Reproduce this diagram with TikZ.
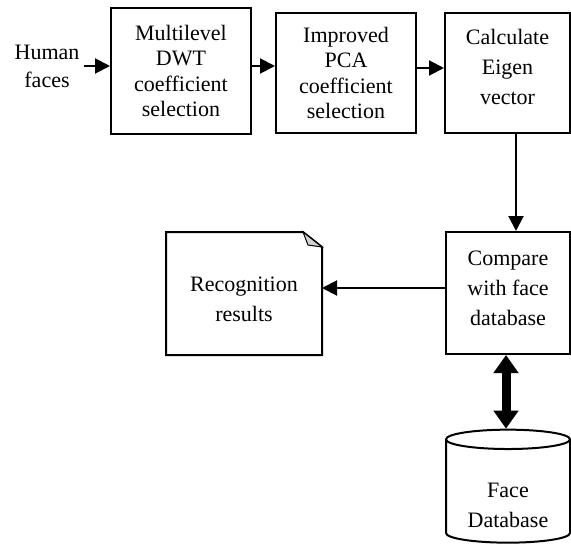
\documentclass[tikz,border=0pt]{standalone}
\usepackage{fontspec}
\setmainfont{Liberation Serif}
\usetikzlibrary{arrows.meta,shapes.geometric,calc}
\tikzset{
	blk/.style={draw,align=center,inner sep=0pt},
	tall/.style={font=\fontsize{22}{30}\selectfont},
}
\begin{document}
\begin{tikzpicture}[x=1pt,y=-1pt,>={Triangle[length=15pt,width=15pt]},font=\fontsize{22}{25.5}\selectfont,line width=2pt]
	\useasboundingbox (0,0) rectangle (571,551);
	\path
	(47,66) node[align=center,font=\fontsize{22}{28}\selectfont] (faces) {Human\\faces}
	(181,71) node[blk,minimum width=140pt,minimum height=126pt] (dwt) {Multilevel\\DWT\\coefficient\\selection}
	(346,73) node[blk,minimum width=140pt,minimum height=120pt] (pca) {Improved\\PCA\\coefficient\\selection}
	(507.5,73) node[blk,tall,text depth=12pt,minimum width=125pt,minimum height=120pt] (eigen) {Calculate\\Eigen\\vector}
	(508,293) node[blk,tall,text depth=10pt,minimum width=124pt,minimum height=122pt] (cmp) {Compare\\with face\\database}
	(244,293.5) node[align=center,tall,text height=56pt,minimum width=154pt,minimum height=121pt,inner sep=0pt] (res) {Recognition\\results}
	(508,491.5) node[cylinder,shape border rotate=90,draw,aspect=0.24,minimum width=124pt,minimum height=113pt,align=center,tall,text height=73pt,inner sep=0pt] (db) {Face\\Database}
	;
	\path
	($(eigen.south)+(8.5,0)$) coordinate (e1)
	($(cmp.west)+(0,-5)$) coordinate (c1)
	($(cmp.south)+(-2,0)$) coordinate (c2)
	;
	% folded corner of the result sheet
	\draw (res.south west) |- ($(res.north east)+(-19,0)$) -- ($(res.north east)+(0,15)$) |- (res.south west) -- cycle;
	\filldraw[fill=gray!35,line width=1pt] ($(res.north east)+(-19,0)$) -- ($(res.north east)+(-14,13)$) -- ($(res.north east)+(0,15)$) -- cycle;
	\draw[->] (faces.east) -- (faces.east -| dwt.west);
	\draw[->] (dwt.east |- faces.east) -- (pca.west |- faces.east);
	\draw[->] ($(pca.east)+(0,-5)$) -- ($(eigen.west)+(0,-5)$);
	\draw[->] (e1) -- (e1 |- cmp.north);
	\draw[->] (c1) -- (c1 -| res.east);
	\draw[line width=9pt,{Triangle[length=18pt,width=24pt]}-{Triangle[length=18pt,width=24pt]}] (c2) -- (c2 |- db.north);
\end{tikzpicture}
\end{document}
